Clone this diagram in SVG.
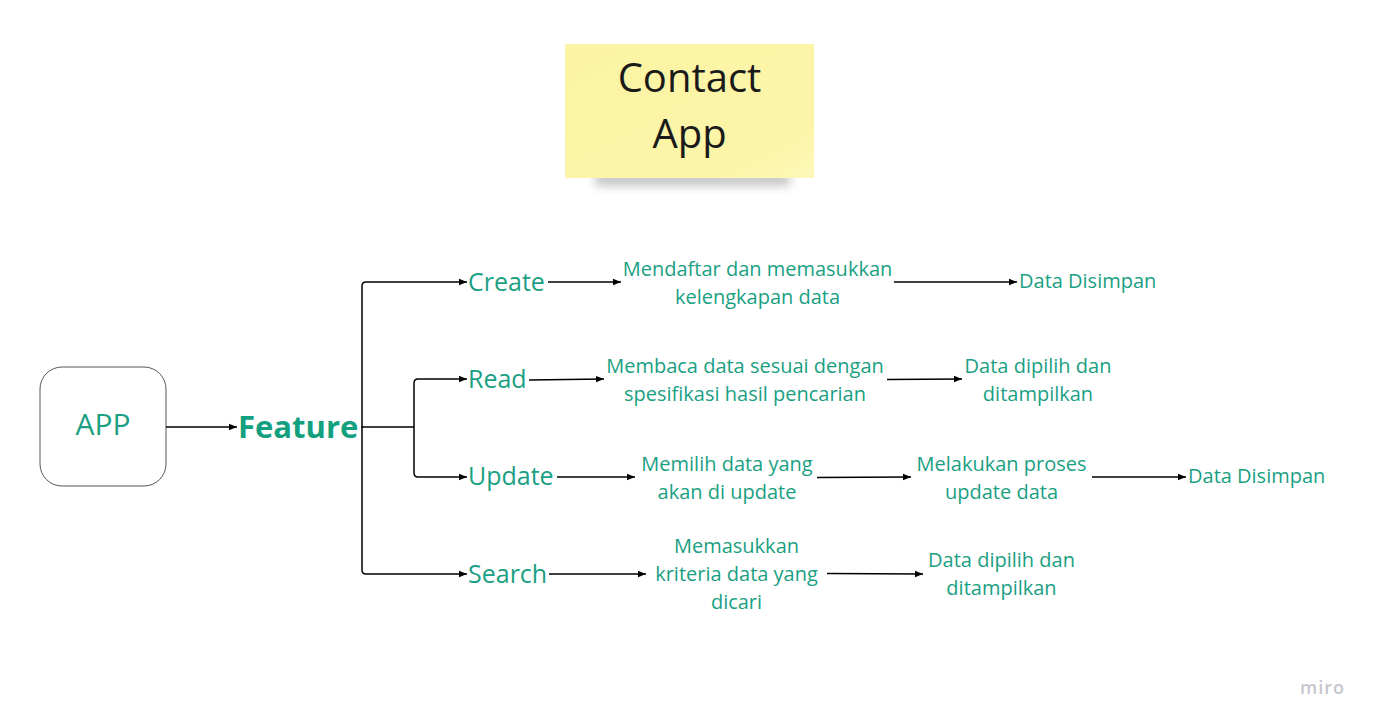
<svg xmlns="http://www.w3.org/2000/svg" width="1376" height="726" viewBox="0 0 1376 726">
<style>
.t{font-family:"Open Sans","Noto Sans",sans-serif;fill:#1a9f83;}
.b{font-size:20px;text-anchor:middle;}
.f{font-size:25px;}
.c{stroke:#000;stroke-width:1.5;fill:none;}
.a{marker-end:url(#ah);}
</style>
<defs>
<marker id="ah" viewBox="0 0 10 10" refX="10" refY="5" markerWidth="8" markerHeight="8" markerUnits="userSpaceOnUse" orient="auto">
<path d="M0,1 L10,5 L0,9 Z" fill="#000"/>
</marker>
<filter id="sh" x="-20%" y="-80%" width="140%" height="260%">
<feGaussianBlur stdDeviation="5"/>
</filter>
<linearGradient id="ng" x1="0" y1="0" x2="1" y2="1">
<stop offset="0" stop-color="#fcf4a4"/>
<stop offset="0.8" stop-color="#fcf5a8"/>
<stop offset="1" stop-color="#fdf8ba"/>
</linearGradient>
</defs>
<rect width="1376" height="726" fill="#fff"/>
<g id="title">
<rect x="595" y="172" width="195" height="14" fill="#999" opacity="0.55" filter="url(#sh)"/>
<rect x="565" y="44" width="249" height="134" fill="url(#ng)"/>
<text x="689.5" y="92" font-size="40" text-anchor="middle" style="font-family:'Open Sans','Noto Sans',sans-serif;fill:#1a1a1a;">Contact</text>
<text x="689.5" y="148" font-size="40" text-anchor="middle" style="font-family:'Open Sans','Noto Sans',sans-serif;fill:#1a1a1a;">App</text>
</g>
<g id="app">
<rect x="40" y="367" width="126" height="119" rx="22" fill="#fff" stroke="#555" stroke-width="1"/>
<text class="t" x="103" y="435" font-size="30" text-anchor="middle">APP</text>
</g>
<g id="feature"><text class="t" x="238" y="438" font-size="31" font-weight="bold" style="fill:#12a07f">Feature</text></g>
<g id="create"><text class="t f" x="468" y="291">Create</text></g>
<g id="read"><text class="t f" x="468" y="388">Read</text></g>
<g id="update"><text class="t f" x="468" y="485">Update</text></g>
<g id="search"><text class="t f" x="468" y="583">Search</text></g>
<g id="create1"><text class="t b" x="757.5" y="276">Mendaftar dan memasukkan</text><text class="t b" x="757.5" y="304">kelengkapan data</text></g>
<g id="create2"><text class="t" x="1019" y="288" font-size="20">Data Disimpan</text></g>
<g id="read1"><text class="t b" x="745" y="373">Membaca data sesuai dengan</text><text class="t b" x="745" y="401">spesifikasi hasil pencarian</text></g>
<g id="read2"><text class="t b" x="1038" y="373">Data dipilih dan</text><text class="t b" x="1038" y="401">ditampilkan</text></g>
<g id="update1"><text class="t b" x="727" y="471">Memilih data yang</text><text class="t b" x="727" y="499">akan di update</text></g>
<g id="update2"><text class="t b" x="1001.5" y="471">Melakukan proses</text><text class="t b" x="1001.5" y="499">update data</text></g>
<g id="update3"><text class="t" x="1188" y="483" font-size="20">Data Disimpan</text></g>
<g id="search1"><text class="t b" x="736.5" y="553">Memasukkan</text><text class="t b" x="736.5" y="581">kriteria data yang</text><text class="t b" x="736.5" y="609">dicari</text></g>
<g id="search2"><text class="t b" x="1001.5" y="567">Data dipilih dan</text><text class="t b" x="1001.5" y="595">ditampilkan</text></g>
<g id="connectors">
<path class="c a" d="M166,427 H237"/>
<path class="c" d="M361,427 H414"/>
<path class="c a" d="M414,427 V383 Q414,379 418,379 H467"/>
<path class="c a" d="M414,427 V473 Q414,477 418,477 H467"/>
<path class="c a" d="M362,427 V286 Q362,282 366,282 H467"/>
<path class="c a" d="M362,427 V570 Q362,574 366,574 H467"/>
<path class="c a" d="M548,282 H621"/>
<path class="c a" d="M894,282 H1017"/>
<path class="c a" d="M529,380 L604,379"/>
<path class="c a" d="M887,379.5 L962,379"/>
<path class="c a" d="M557,477 H635"/>
<path class="c a" d="M817,477.5 L911,477"/>
<path class="c a" d="M1092,477 H1186"/>
<path class="c a" d="M549,574 H646"/>
<path class="c a" d="M827,573.5 L923,574"/>
</g>
<text x="1300" y="694" font-size="18" font-weight="600" letter-spacing="1" style="font-family:'Open Sans',sans-serif;fill:#c6c6ce;">miro</text>
</svg>
